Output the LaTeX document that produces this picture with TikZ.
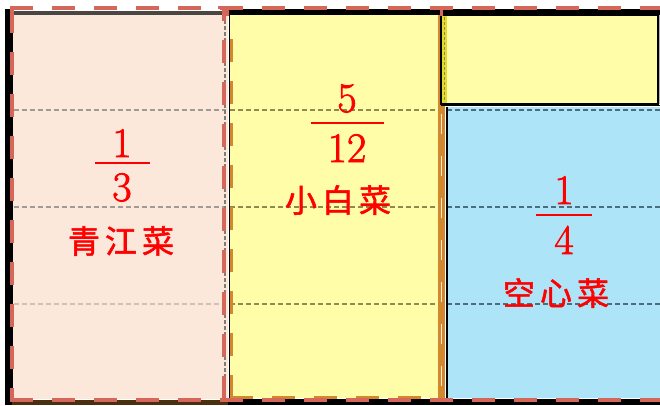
\documentclass[tikz,border=0pt]{standalone}
\usepackage{fontspec}
\newfontfamily\cjk{Noto Sans CJK SC}[FakeBold=1.6]
\newfontfamily\numf{Latin Modern Roman}[FakeBold=1.8]
\definecolor{peach}{HTML}{FCE8DA}
\definecolor{pale}{HTML}{FFFDA8}
\definecolor{sky}{HTML}{AEE4F8}
\definecolor{reddash}{HTML}{D4665A}
\definecolor{orng}{HTML}{D4882E}
\definecolor{olive}{HTML}{8C8A4E}
\definecolor{teal}{HTML}{4A6E7E}
\definecolor{gdash}{HTML}{A09A92}
\definecolor{txt}{HTML}{FF0000}
\tikzset{
  num/.style={anchor=base,inner sep=0pt,text=txt,font=\numf\fontsize{42}{42}\selectfont},
  word/.style={anchor=center,inner sep=0pt,text=txt,font=\cjk\fontsize{32}{32}\selectfont},
  bar/.style={txt,line width=2pt},
  hgrid/.style={line width=1.3pt,dash pattern=on 5pt off 3pt},
  redd/.style={reddash,line width=4pt,dash pattern=on 23pt off 19pt},
}
\begin{document}
\begin{tikzpicture}[x=1pt,y=-1pt]
\useasboundingbox (0,0) rectangle (660,406);
\fill[white] (0,0) rectangle (660,406);
% regions
\fill[peach] (12,13) rectangle (228,399);
\fill[pale] (229,14) rectangle (439,398);
\fill[orng] (438,14) rectangle (445,398);
\draw[white!80!orng,line width=1pt,dash pattern=on 20pt off 22pt] (441.5,30) -- (441.5,398);
\fill[sky] (446,107) rectangle (660,398);
\fill[pale] (441,15) rectangle (658,104);
\fill[yellow!75!olive] (442,16) rectangle (447,103);
\draw[olive,line width=1pt,dash pattern=on 3pt off 2pt] (444.5,17) -- (444.5,102);
\draw[black,line width=2pt] (441,15) rectangle (658,104);
\draw[gray!60,line width=0.8pt] (659.5,15) -- (659.5,104);
% horizontal grid lines
\draw[hgrid,gdash] (14,110) -- (226,110);
\draw[hgrid,gdash] (14,207) -- (226,207);
\draw[hgrid,gdash!50!peach] (14,304) -- (226,304);
\draw[hgrid,olive] (230,110) -- (438,110);
\draw[hgrid,olive] (230,207) -- (438,207);
\draw[hgrid,olive] (230,304) -- (438,304);
\draw[hgrid,teal] (447,110) -- (660,110);
\draw[hgrid,teal] (447,207) -- (660,207);
\draw[hgrid,teal] (447,304) -- (660,304);
% vertical grid line in left region
\draw[gdash!80!black,line width=1.2pt,dash pattern=on 4pt off 2pt] (225,14) -- (225,398);
% orange dashed border of middle region
\draw[orng,line width=3pt,dash pattern=on 23pt off 19pt] (231,398) -- (231,30);
\draw[orng,line width=3pt,dash pattern=on 23pt off 19pt] (230,397) -- (438,397);
% black borders
\draw[black,line width=1.5pt] (229.5,15) -- (229.5,399);
\draw[black,line width=2pt] (446.5,107) -- (446.5,399);
\draw[black,line width=1pt] (441,106) -- (660,106);
\fill[black] (228,9) rectangle (660,15);
\fill[black!70!peach] (12,11) rectangle (228,15);
\fill[black] (5,9) rectangle (12.5,405);
\fill[black] (228,399) rectangle (660,405);
\fill[black!65!orng] (12,400) rectangle (228,405);
% red dashed outlines
\draw[redd] (11.5,10) -- (11.5,399);
\draw[redd] (223.5,399) -- (223.5,10);
\draw[redd] (10,8) -- (660,8);
\draw[redd] (10,399.5) -- (660,399.5);
\draw[reddash,line width=3pt] (218,8) -- (227,8) -- (227,16);
\draw[reddash,line width=3pt] (432,8) -- (441,8) -- (441,16);
% texts
\node[num] (n1) at (122,157) {1};
\node[num] (d1) at (122,201) {3};
\draw[bar] (95,163) coordinate (b1a) -- (150,163) coordinate (b1b);
\node[word] (w1) at (121,241) {青\hspace{5pt}江\hspace{5pt}菜};
\node[num] (n2) at (347,112) {5};
\node[num] (d2) at (347,162) {12};
\draw[bar] (311,123) coordinate (b2a) -- (384,123) coordinate (b2b);
\node[word] (w2) at (338,200) {小\hspace{5pt}白\hspace{5pt}菜};
\node[num] (n3) at (564,204) {1};
\node[num] (d3) at (564,254) {4};
\draw[bar] (536,215) coordinate (b3a) -- (592,215) coordinate (b3b);
\node[word] (w3) at (556,293) {空\hspace{5pt}心\hspace{5pt}菜};
\end{tikzpicture}
\end{document}
